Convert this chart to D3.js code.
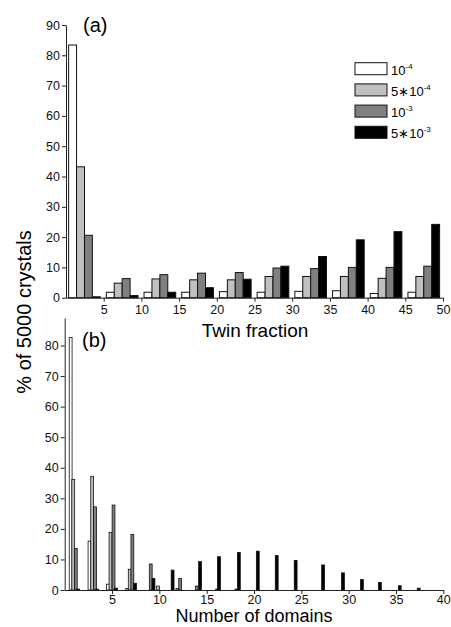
<!DOCTYPE html>
<html>
<head>
<meta charset="utf-8">
<script src="https://cdn.jsdelivr.net/npm/d3@7"></script>
<style>
  body { margin: 0; background: #fff; }
  svg { display: block; font-family: "Liberation Sans", Arial, sans-serif; }
  .axis path, .axis line { stroke: #222; }
  .axis text { font-size: 12.5px; fill: #111; }
</style>
</head>
<body>
<svg id="chart" width="451" height="627"></svg>
<script>
// ---- data ----
const seriesNames = ["1e-4", "5e-4", "1e-3", "5e-3"];
const seriesColors = ["#ffffff", "#c0c0c0", "#808080", "#000000"];
const legendBase = ["10", "5\u221710", "10", "5\u221710"];
const legendExp = ["-4", "-4", "-3", "-3"];

// (a) twin fraction bins (start of each 5% bin)
const twinBins = [0, 5, 10, 15, 20, 25, 30, 35, 40, 45];
const twin1e4 = [83.4, 1.8, 1.8, 1.8, 2.0, 1.8, 2.1, 2.3, 1.4, 1.8];
const twin5e4 = [43.2, 4.8, 6.2, 5.9, 5.9, 7.0, 7.0, 7.0, 6.4, 7.0];
const twin1e3 = [20.6, 6.3, 7.6, 8.1, 8.3, 9.8, 9.6, 10.0, 10.0, 10.4];
const twin5e3 = [0.3, 0.7, 1.8, 3.3, 6.1, 10.4, 13.6, 19.1, 21.8, 24.2];
const twinTicks = [5, 10, 15, 20, 25, 30, 35, 40, 45, 50];
const pctTicksA = [0, 10, 20, 30, 40, 50, 60, 70, 80, 90];

// (b) number of domains: bar position and value per series
const dom1e4X = [0.63, 2.62, 4.56, 6.6];
const dom1e4 = [82.6, 16.0, 1.9, 0.5];
const dom5e4X = [0.9, 2.9, 4.84, 6.87, 9.86, 11.9];
const dom5e4 = [36.2, 37.2, 18.8, 6.8, 1.3, 0.5];
const dom1e3X = [1.17, 3.2, 5.16, 7.15, 9.09, 12.2, 13.95, 16.1, 18.15];
const dom1e3 = [13.6, 27.2, 27.8, 18.2, 8.5, 3.8, 1.3, 0.3, 0.3];
const dom5e3X = [1.4, 3.42, 5.42, 7.43, 9.38, 11.4, 14.3, 16.3, 18.4, 20.4, 22.4, 24.4, 27.3, 29.4, 31.4, 33.3, 35.4, 37.4];
const dom5e3 = [0.3, 0.3, 0.6, 2.2, 3.8, 6.5, 9.3, 10.9, 12.3, 12.7, 11.3, 9.7, 8.2, 5.6, 3.4, 2.5, 1.4, 0.6];
const domTicks = [5, 10, 15, 20, 25, 30, 35, 40];
const pctTicksB = [0, 10, 20, 30, 40, 50, 60, 70, 80];

const svg = d3.select("#chart");

// ---------- panel (a) ----------
const xA = d3.scaleLinear().domain([0, 50]).range([66, 443]);
const yA = d3.scaleLinear().domain([0, 90]).range([297.7, 25]);
const twinSeries = [twin1e4, twin5e4, twin1e3, twin5e3];
const barW = 1.05, barOff = 0.35;

const rowsA = [];
twinSeries.forEach((vals, s) => {
  vals.forEach((v, i) => rowsA.push({ s: s, x0: twinBins[i] + barOff + s * barW, v: v }));
});

svg.append("g").selectAll("rect")
  .data(rowsA)
  .enter().append("rect")
  .attr("x", d => xA(d.x0))
  .attr("y", d => yA(d.v))
  .attr("width", xA(barW) - xA(0))
  .attr("height", d => yA(0) - yA(d.v))
  .attr("fill", d => seriesColors[d.s])
  .attr("stroke", "#111")
  .attr("stroke-width", 1);

svg.append("g")
  .attr("class", "axis")
  .attr("transform", `translate(0,${yA(0)})`)
  .call(d3.axisBottom(xA).tickValues(twinTicks).tickSize(4).tickSizeOuter(0).tickPadding(3));

svg.append("g")
  .attr("class", "axis")
  .attr("transform", `translate(${xA(0)},0)`)
  .call(d3.axisLeft(yA).tickValues(pctTicksA).tickSize(4).tickSizeOuter(0).tickPadding(2));

svg.append("text")
  .attr("x", 83).attr("y", 32)
  .style("font-size", "20px")
  .text("(a)");

svg.append("text")
  .attr("x", 255).attr("y", 337)
  .style("text-anchor", "middle")
  .style("font-size", "19px")
  .text("Twin fraction");

// legend
const legend = svg.append("g").attr("transform", "translate(355,62.7)");
seriesNames.forEach((name, i) => {
  const g = legend.append("g").attr("transform", `translate(0,${i * 21.2})`);
  g.append("rect")
    .attr("width", 32).attr("height", 12)
    .attr("fill", seriesColors[i])
    .attr("stroke", "#111");
  const t = g.append("text")
    .attr("x", 36).attr("y", 12)
    .style("font-size", "13px");
  t.append("tspan").text(legendBase[i]);
  t.append("tspan").attr("dy", -6).style("font-size", "8px").text(legendExp[i]);
});

// ---------- panel (b) ----------
const xB = d3.scaleLinear().domain([0, 40]).range([64.7, 443.3]);
const yB = d3.scaleLinear().domain([0, 89]).range([590, 318]);
const domX = [dom1e4X, dom5e4X, dom1e3X, dom5e3X];
const domV = [dom1e4, dom5e4, dom1e3, dom5e3];
const thinW = 0.3;

const rowsB = [];
domV.forEach((vals, s) => {
  vals.forEach((v, i) => rowsB.push({ s: s, x: domX[s][i], v: v }));
});

svg.append("g").selectAll("rect")
  .data(rowsB)
  .enter().append("rect")
  .attr("x", d => xB(d.x - thinW / 2))
  .attr("y", d => yB(d.v))
  .attr("width", xB(thinW) - xB(0))
  .attr("height", d => yB(0) - yB(d.v))
  .attr("fill", d => seriesColors[d.s])
  .attr("stroke", "#111")
  .attr("stroke-width", 0.8);

svg.append("g")
  .attr("class", "axis")
  .attr("transform", `translate(0,${yB(0)})`)
  .call(d3.axisBottom(xB).tickValues(domTicks).tickSize(4).tickSizeOuter(0).tickPadding(1));

svg.append("g")
  .attr("class", "axis")
  .attr("transform", `translate(${xB(0)},0)`)
  .call(d3.axisLeft(yB).tickValues(pctTicksB).tickSize(4).tickSizeOuter(0).tickPadding(2));

svg.append("text")
  .attr("x", 82).attr("y", 347)
  .style("font-size", "20px")
  .text("(b)");

svg.append("text")
  .attr("x", 254).attr("y", 622)
  .style("text-anchor", "middle")
  .style("font-size", "18px")
  .text("Number of domains");

// shared y label
svg.append("text")
  .attr("transform", "translate(31,312) rotate(-90)")
  .style("text-anchor", "middle")
  .style("font-size", "20px")
  .text("% of 5000 crystals");
</script>
</body>
</html>
